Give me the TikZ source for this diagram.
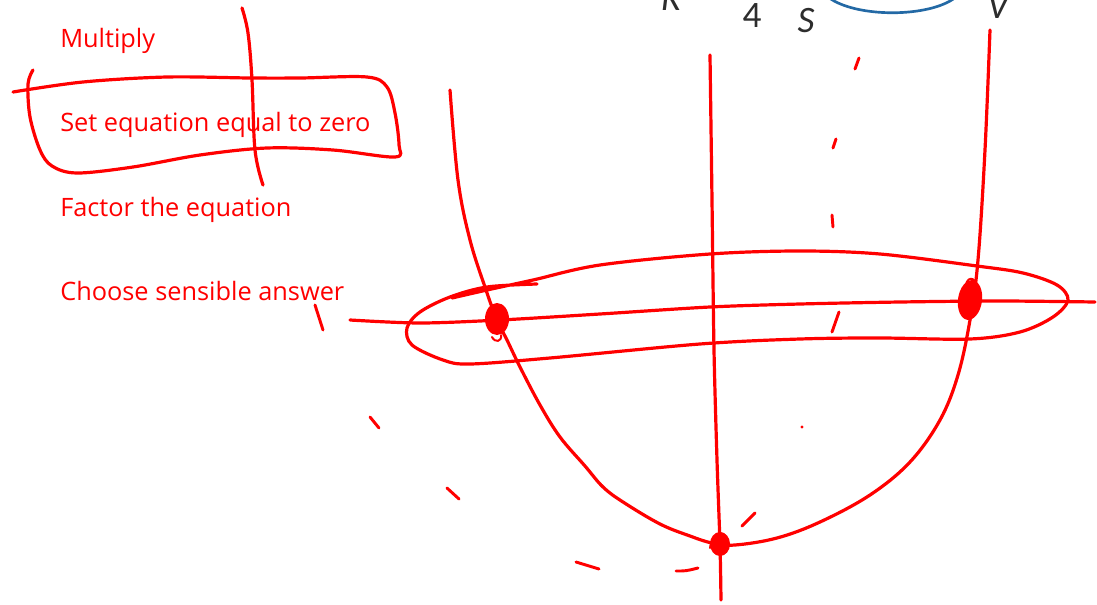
\documentclass[tikz,border=0pt]{standalone}
\usepackage{fontspec}
\setmainfont{Open Sans}
\newfontfamily\figfont{Carlito}
\usetikzlibrary{calc}
\definecolor{penred}{RGB}{255,0,0}
\definecolor{inkgray}{RGB}{45,45,45}
\definecolor{arcblue}{RGB}{35,105,165}

\begin{document}
\begin{tikzpicture}[x=0.75pt, y=-0.75pt,
    pen/.style={penred, line width=2.4pt, line cap=round, line join=round},
    tick/.style={penred, line width=2.2pt, line cap=round},
    stage/.style={anchor=base west, text=penred, inner sep=0pt,
      font=\fontsize{19}{23}\selectfont},
    fig/.style={anchor=base, text=inkgray, inner sep=0pt,
      font=\figfont\fontsize{28}{32}\selectfont\itshape}
  ]
    \clip (0,0) rectangle (1097,604);

    % steps of the method
    \node[stage] (multiply) at (60,47) {Multiply};
    \node[stage] (setzero) at (60,131.5) {Set equation equal to zero};
    \node[stage] (factor) at (60,216) {Factor the equation};
    \node[stage] (choose) at (60,300.5) {Choose sensible answer};

    % cut-off figure at the top
    \node[fig] (rlabel) at (671,10) {R};
    \node[fig, font=\figfont\fontsize{28}{32}\selectfont] (four) at (752,27) {4};
    \node[fig] (slabel) at (806,32) {S};
    \node[fig] (vlabel) at (998,18) {V};
    \draw[arcblue, line width=2pt] (828,-3) .. controls (855,18) and (930,18) .. (956,-3);

    % ink over the steps
    \draw[pen] plot[smooth, tension=0.6] coordinates {(242,8) (248,33) (252,80) (255,150) (263,185)};
    \draw[pen] plot[smooth, tension=0.55] coordinates {(33,70) (28,84) (30,117) (40,150) (52,166)
      (77,173) (133,167) (200,155) (267,148) (333,150) (395,157) (399,145) (395,113) (387,87)
      (367,77) (300,78) (250,78) (167,77) (83,82) (13,92)};

    % axes and parabola
    \draw[pen] plot[smooth] coordinates {(710,55) (712,200) (714,350) (717,460) (720,545) (721,600)};
    \draw[pen] plot[smooth, tension=0.6] coordinates {(450,90) (458,180) (470,240) (486,290)
      (497,320) (507,340) (520,367) (540,405) (560,437) (585,466) (603,487) (623,502) (660,524)
      (690,536) (712,543) (735,545) (777,538) (820,522) (870,495) (910,462) (940,420) (958,375)
      (970,320) (978,260) (985,150) (990,30)};
    \draw[pen] plot[smooth] coordinates {(350,320) (420,323) (500,320) (600,314) (710,307)
      (800,304) (900,302) (1000,301) (1095,302)};

    % loop round the answers
    \draw[pen] plot[smooth, tension=0.55] coordinates {(537,284) (487,287) (450,297) (420,312)
      (407,328) (412,345) (443,360) (470,364) (550,358) (700,344) (800,339) (880,338) (970,339)
      (1020,332) (1053,317) (1068,300) (1057,285) (1023,273) (977,266) (880,254) (800,251)
      (710,254) (600,265) (533,280) (487,290) (452,298)};

    % roots and vertex
    \fill[penred] (497,319) ellipse [x radius=9pt, y radius=12pt];
    \draw[pen, line width=1.5pt] (492,337) .. controls (495,343) and (502,342) .. (501,335);
    \fill[penred, rotate around={-8:(970,300)}] (970,300) ellipse [x radius=9pt, y radius=15pt];
    \draw[pen, line width=1.5pt] (966,290) .. controls (964,276) and (977,274) .. (977,290);
    \fill[penred] (720,544) ellipse [x radius=7.5pt, y radius=9pt];
    \draw[pen, line width=1.5pt] (710,548) .. controls (712,530) and (730,525) .. (726,552);

    % dashed strokes
    \draw[tick] (315,305) -- (323,330);
    \draw[tick] (370,417) -- (379,428);
    \draw[tick] (447,488) -- (459,499);
    \draw[tick] (576,562) -- (599,569);
    \draw[tick] (676,571) .. controls (686,571) .. (698,568);
    \draw[tick] (742,526) -- (755,513);
    \fill[penred] (802,427) circle [radius=1.3pt];
    \draw[tick] (832,332) -- (839,312);
    \draw[tick] (832,215) -- (833,227);
    \draw[tick] (833,148) -- (836,139);
    \draw[tick] (855,69) -- (859,58);
\end{tikzpicture}
\end{document}
